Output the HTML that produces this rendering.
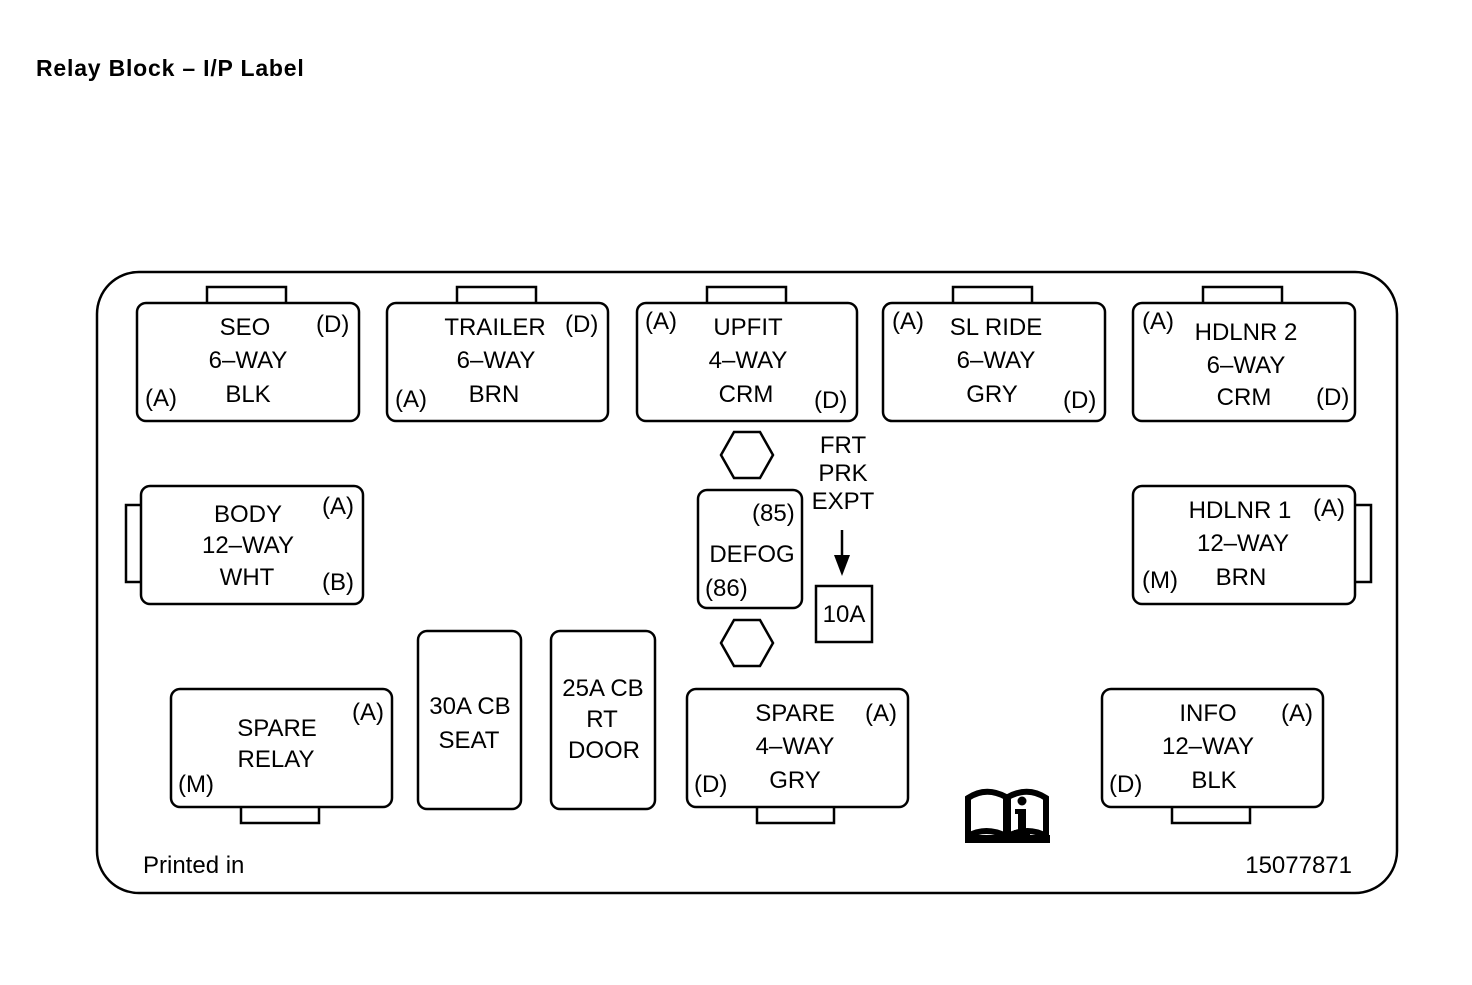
<!DOCTYPE html>
<html><head><style>body{margin:0;background:#fff}svg text{font-family:"Liberation Sans",Arial,sans-serif;font-size:24px;fill:#000}</style></head>
<body>
<svg width="1472" height="980" viewBox="0 0 1472 980" xmlns="http://www.w3.org/2000/svg">
<text x="36" y="76" style="font-weight:bold;font-size:23px;letter-spacing:0.8px">Relay Block – I/P Label</text>
<g fill="none" stroke="#000" stroke-width="2.5">
<rect x="97" y="272" width="1300" height="621" rx="42"/>
<path d="M207 303V287H286V303M457 303V287H536V303M707 303V287H786V303M953 303V287H1032V303M1203 303V287H1282V303"/>
<rect x="137" y="303" width="222" height="118" rx="9"/>
<rect x="387" y="303" width="221" height="118" rx="9"/>
<rect x="637" y="303" width="220" height="118" rx="9"/>
<rect x="883" y="303" width="222" height="118" rx="9"/>
<rect x="1133" y="303" width="222" height="118" rx="9"/>
<path d="M141 505H126V582H141M1355 505H1371V582H1355"/>
<rect x="141" y="486" width="222" height="118" rx="9"/>
<rect x="1133" y="486" width="222" height="118" rx="9"/>
<rect x="698" y="490" width="104" height="118" rx="9"/>
<polygon points="721,455 734,432 760,432 773,455 760,478 734,478"/>
<polygon points="721,643 734,620 760,620 773,643 760,666 734,666"/>
<rect x="816" y="586" width="56" height="56"/>
<rect x="171" y="689" width="221" height="118" rx="9"/>
<rect x="418" y="631" width="103" height="178" rx="9"/>
<rect x="551" y="631" width="104" height="178" rx="9"/>
<rect x="687" y="689" width="221" height="118" rx="9"/>
<rect x="1102" y="689" width="221" height="118" rx="9"/>
<path d="M241 807V823H319V807M757 807V823H834V807M1172 807V823H1250V807"/>
<line x1="842" y1="530" x2="842" y2="560"/>
</g>
<polygon points="834,555 850,555 842,576" fill="#000"/>
<g text-anchor="middle">
<text x="245" y="335">SEO</text><text x="248" y="368">6–WAY</text><text x="248" y="402">BLK</text>
<text x="495" y="335">TRAILER</text><text x="496" y="368">6–WAY</text><text x="494" y="402">BRN</text>
<text x="748" y="335">UPFIT</text><text x="748" y="368">4–WAY</text><text x="746" y="402">CRM</text>
<text x="996" y="335">SL RIDE</text><text x="996" y="368">6–WAY</text><text x="992" y="402">GRY</text>
<text x="1246" y="340">HDLNR 2</text><text x="1246" y="373">6–WAY</text><text x="1244" y="405">CRM</text>
<text x="248" y="522">BODY</text><text x="248" y="553">12–WAY</text><text x="247" y="585">WHT</text>
<text x="1240" y="518">HDLNR 1</text><text x="1243" y="551">12–WAY</text><text x="1241" y="585">BRN</text>
<text x="752" y="562">DEFOG</text>
<text x="843" y="453">FRT</text><text x="843" y="481">PRK</text><text x="843" y="509">EXPT</text>
<text x="844" y="622">10A</text>
<text x="277" y="736">SPARE</text><text x="276" y="767">RELAY</text>
<text x="470" y="714">30A CB</text><text x="469" y="748">SEAT</text>
<text x="603" y="696">25A CB</text><text x="602" y="727">RT</text><text x="604" y="758">DOOR</text>
<text x="795" y="721">SPARE</text><text x="795" y="754">4–WAY</text><text x="795" y="788">GRY</text>
<text x="1208" y="721">INFO</text><text x="1208" y="754">12–WAY</text><text x="1214" y="788">BLK</text>
</g>
<g>
<text x="316" y="332">(D)</text><text x="145" y="406">(A)</text>
<text x="565" y="332">(D)</text><text x="395" y="407">(A)</text>
<text x="645" y="329">(A)</text><text x="814" y="408">(D)</text>
<text x="892" y="329">(A)</text><text x="1063" y="408">(D)</text>
<text x="1142" y="329">(A)</text><text x="1316" y="405">(D)</text>
<text x="322" y="514">(A)</text><text x="322" y="590">(B)</text>
<text x="1313" y="516">(A)</text><text x="1142" y="588">(M)</text>
<text x="752" y="521">(85)</text><text x="705" y="596">(86)</text>
<text x="352" y="720">(A)</text><text x="178" y="792">(M)</text>
<text x="865" y="721">(A)</text><text x="694" y="792">(D)</text>
<text x="1281" y="721">(A)</text><text x="1109" y="792">(D)</text>
<text x="143" y="873">Printed in</text>
<text x="1352" y="873" text-anchor="end">15077871</text>
</g>
<g>
<path d="M968 798 Q986 786 1006 797 L1006 836 Q986 826 968 836 Z" fill="none" stroke="#000" stroke-width="6"/>
<path d="M1008 797 Q1028 786 1046 798 L1046 836 Q1028 826 1008 836 Z" fill="none" stroke="#000" stroke-width="6"/>
<rect x="965" y="835" width="85" height="8" fill="#000"/>
<circle cx="1022" cy="801" r="4.5" fill="#000"/>
<path d="M1015 809h11v21h4v5h-16v-5h4v-16h-3z" fill="#000"/>
</g>
</svg>
</body></html>
